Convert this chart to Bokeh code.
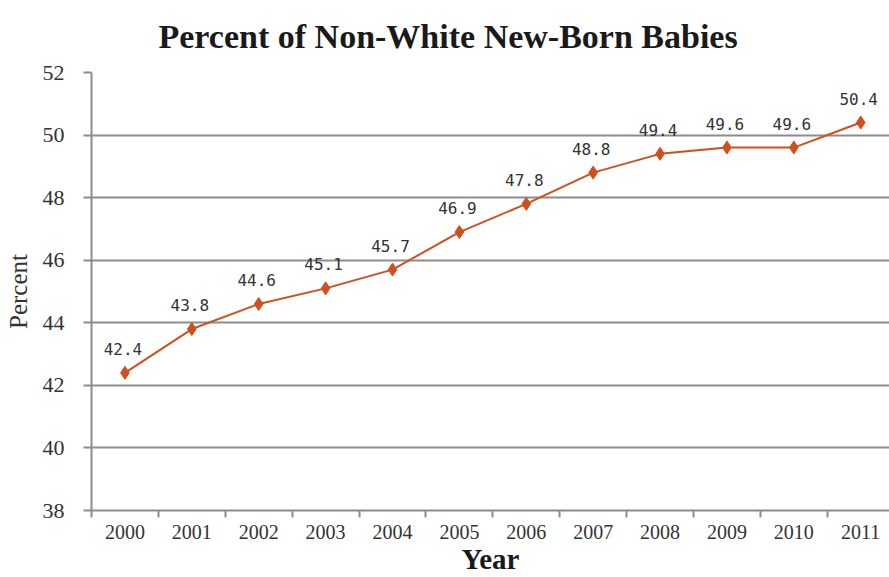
from bokeh.plotting import figure
from bokeh.models import ColumnDataSource, FixedTicker, Range1d, LabelSet
from bokeh.core.properties import value
from bokeh.embed import file_html
from bokeh.resources import INLINE

# Share of non-white newborns by year (percent)
years = [2000, 2001, 2002, 2003, 2004, 2005, 2006, 2007, 2008, 2009, 2010, 2011]
percent = [42.4, 43.8, 44.6, 45.1, 45.7, 46.9, 47.8, 48.8, 49.4, 49.6, 49.6, 50.4]
y_ticks = [38, 40, 42, 44, 46, 48, 50, 52]
title_text = "Percent of Non-White New-Born Babies"
x_title = "Year"
y_title = "Percent"

source = ColumnDataSource(dict(
    x=years,
    y=percent,
    label=[f"{v:.1f}" for v in percent],
))

GRID = "#8c8c8c"
LINE = "#cf4f1d"
SERIF = "Liberation Serif"

p = figure(
    width=889, height=577,
    output_backend="svg", toolbar_location=None,
    x_range=Range1d(1999.5, 2011.43), y_range=Range1d(38, 52),
    min_border_left=91, min_border_right=0,
    min_border_top=72, min_border_bottom=67,
    title=title_text,
)
p.outline_line_color = None
p.background_fill_color = "white"
p.border_fill_color = "white"

# Title, raised towards the top edge and shifted left over the canvas middle
p.title.align = "left"
p.title.vertical_align = "top"
p.title.text_font = SERIF
p.title.text_font_size = "34px"
p.title.text_font_style = "bold"
p.title.text_color = "#1a1a1a"
p.title.offset = 67
p.title.standoff = 32

# Horizontal gridlines
p.xgrid.grid_line_color = None
p.ygrid.ticker = FixedTicker(ticks=y_ticks)
p.ygrid.grid_line_color = GRID
p.ygrid.grid_line_width = 2

# Y axis
p.yaxis.ticker = FixedTicker(ticks=y_ticks)
p.yaxis.axis_line_color = GRID
p.yaxis.axis_line_width = 2
p.yaxis.major_tick_line_color = GRID
p.yaxis.major_tick_line_width = 2
p.yaxis.major_tick_out = 8
p.yaxis.major_tick_in = 0
p.yaxis.minor_tick_line_color = None
p.yaxis.major_label_text_font = SERIF
p.yaxis.major_label_text_font_size = "22px"
p.yaxis.major_label_text_color = "#333333"
p.yaxis.major_label_standoff = 19
p.yaxis.axis_label = y_title
p.yaxis.axis_label_text_font = SERIF
p.yaxis.axis_label_text_font_size = "25px"
p.yaxis.axis_label_text_font_style = "normal"
p.yaxis.axis_label_text_color = "#333333"
p.yaxis.axis_label_standoff = 8

# X axis: labels at year centres, tick marks between years
p.xaxis.ticker = FixedTicker(ticks=years, minor_ticks=[y - 0.5 for y in years] + [years[-1] + 0.5])
p.xaxis.axis_line_color = GRID
p.xaxis.axis_line_width = 2
p.xaxis.major_tick_line_color = None
p.xaxis.major_tick_out = 0
p.xaxis.major_tick_in = 0
p.xaxis.minor_tick_line_color = GRID
p.xaxis.minor_tick_line_width = 2
p.xaxis.minor_tick_out = 7
p.xaxis.minor_tick_in = 0
p.xaxis.major_label_text_font = SERIF
p.xaxis.major_label_text_font_size = "20px"
p.xaxis.major_label_text_color = "#333333"
p.xaxis.major_label_standoff = 7
p.xaxis.axis_label = x_title
p.xaxis.axis_label_text_font = SERIF
p.xaxis.axis_label_text_font_size = "29px"
p.xaxis.axis_label_text_font_style = "bold"
p.xaxis.axis_label_text_color = "#1a1a1a"
p.xaxis.axis_label_standoff = 1

# Series line with diamond markers
p.line("x", "y", source=source, line_color=LINE, line_width=2)
p.scatter("x", "y", source=source, marker="diamond", size=13,
          fill_color=LINE, line_color=LINE)

# Value labels above each point
labels = LabelSet(x="x", y="y", text="label", source=source,
                  text_font=value("DejaVu Sans Mono"), text_font_size=value("16px"),
                  text_color="#333333", text_align="center",
                  text_baseline="bottom", x_offset=-2, y_offset=18)
p.add_layout(labels)

open("out.html", "w").write(file_html(p, INLINE))
